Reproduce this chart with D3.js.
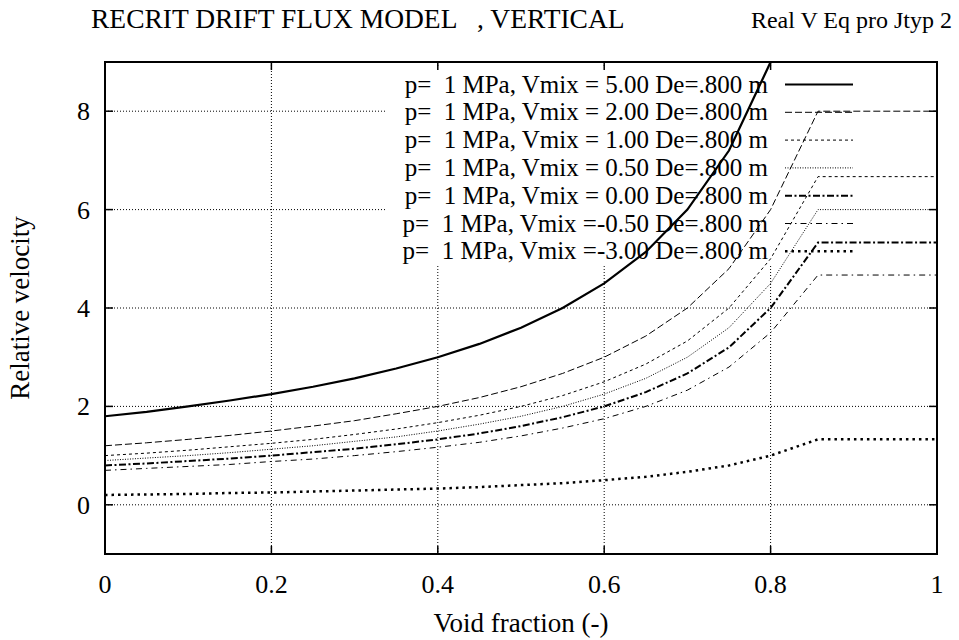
<!DOCTYPE html>
<html lang="en">
<head>
<meta charset="UTF-8">
<title>Recrit drift flux model</title>
<script src="https://d3js.org/d3.v7.min.js"></script>
<style>
    body { margin: 0; padding: 0; background: #fff; }
    .grid line { stroke: #000; stroke-width: 1; stroke-dasharray: 1 2; }
</style>
</head>
<body>
<svg width="959" height="640"></svg>
<script>
    // void fraction samples
    const alpha = [0, 0.05, 0.1, 0.15, 0.2, 0.25, 0.3, 0.35, 0.4, 0.45, 0.5, 0.55, 0.6, 0.65, 0.7, 0.75, 0.8, 0.857, 1.0];

    // relative velocity, one list per mixture velocity
    const vmix500 = [1.80, 1.89, 2.00, 2.12, 2.25, 2.40, 2.57, 2.77, 3.00, 3.27, 3.60, 4.00, 4.50, 5.14, 6.00, 7.20, 9.00, 12.0, 12.0];
    const vmix200 = [1.20, 1.26, 1.33, 1.41, 1.50, 1.60, 1.71, 1.85, 2.00, 2.18, 2.40, 2.67, 3.00, 3.43, 4.00, 4.80, 6.00, 8.00, 8.00];
    const vmix100 = [1.00, 1.05, 1.11, 1.18, 1.25, 1.33, 1.43, 1.54, 1.67, 1.82, 2.00, 2.22, 2.50, 2.86, 3.33, 4.00, 5.00, 6.67, 6.67];
    const vmix050 = [0.90, 0.95, 1.00, 1.06, 1.13, 1.20, 1.29, 1.38, 1.50, 1.64, 1.80, 2.00, 2.25, 2.57, 3.00, 3.60, 4.50, 6.00, 6.00];
    const vmix000 = [0.80, 0.84, 0.89, 0.94, 1.00, 1.07, 1.14, 1.23, 1.33, 1.45, 1.60, 1.78, 2.00, 2.29, 2.67, 3.20, 4.00, 5.33, 5.33];
    const vmixm050 = [0.70, 0.74, 0.78, 0.82, 0.88, 0.93, 1.00, 1.08, 1.17, 1.27, 1.40, 1.56, 1.75, 2.00, 2.33, 2.80, 3.50, 4.67, 4.67];
    const vmixm300 = [0.20, 0.21, 0.22, 0.24, 0.25, 0.27, 0.29, 0.31, 0.33, 0.36, 0.40, 0.44, 0.50, 0.57, 0.67, 0.80, 1.00, 1.33, 1.33];

    const labels = [
        "p=  1 MPa, Vmix = 5.00 De=.800 m",
        "p=  1 MPa, Vmix = 2.00 De=.800 m",
        "p=  1 MPa, Vmix = 1.00 De=.800 m",
        "p=  1 MPa, Vmix = 0.50 De=.800 m",
        "p=  1 MPa, Vmix = 0.00 De=.800 m",
        "p=  1 MPa, Vmix =-0.50 De=.800 m",
        "p=  1 MPa, Vmix =-3.00 De=.800 m"
    ];
    const xTicks = [0, 0.2, 0.4, 0.6, 0.8, 1];
    const yTicks = [0, 2, 4, 6, 8];

    // line looks per series (gnuplot style)
    const styles = [
        { w: 2.2, dash: null },
        { w: 1, dash: "7 3" },
        { w: 1, dash: "3 3" },
        { w: 1, dash: "1 1.5" },
        { w: 2, dash: "7 2.5 2 2.5" },
        { w: 1, dash: "6 4 1.5 4" },
        { w: 2.5, dash: "2.5 4" }
    ];

    const series = [vmix500, vmix200, vmix100, vmix050, vmix000, vmixm050, vmixm300];

    const FONT = "'Liberation Serif', 'Times New Roman', serif";
    const svg = d3.select("svg");
    const L = 105, R = 937, T = 62, B = 554;

    const x = d3.scaleLinear().domain([0, 1]).range([L, R]);
    const y = d3.scaleLinear().domain([-1, 9]).range([B, T]);

    function label(g, size) {
        return g.append("text")
            .style("font-family", FONT)
            .style("font-size", size + "px")
            .style("white-space", "pre")
            .attr("fill", "#000");
    }

    svg.append("defs").append("clipPath").attr("id", "plotclip")
        .append("rect").attr("x", L).attr("y", T).attr("width", R - L).attr("height", B - T);

    // grid
    const grid = svg.append("g").attr("class", "grid");
    grid.selectAll(".gx").data(xTicks.filter(d => d > 0 && d < 1)).enter().append("line")
        .attr("x1", d => x(d)).attr("x2", d => x(d)).attr("y1", T).attr("y2", B);
    grid.selectAll(".gy").data(yTicks).enter().append("line")
        .attr("x1", L).attr("x2", R).attr("y1", d => y(d)).attr("y2", d => y(d));

    // legend box hides the grid behind it
    svg.append("rect").attr("x", 386).attr("y", 68).attr("width", R - 386).attr("height", 196).attr("fill", "#fff");

    // ticks on all four sides, pointing in
    const ticks = svg.append("g").attr("stroke", "#000").attr("stroke-width", 1.5);
    xTicks.forEach(d => {
        ticks.append("line").attr("x1", x(d)).attr("x2", x(d)).attr("y1", B).attr("y2", B - 8);
        ticks.append("line").attr("x1", x(d)).attr("x2", x(d)).attr("y1", T).attr("y2", T + 8);
    });
    yTicks.forEach(d => {
        ticks.append("line").attr("x1", L).attr("x2", L + 8).attr("y1", y(d)).attr("y2", y(d));
        ticks.append("line").attr("x1", R).attr("x2", R - 8).attr("y1", y(d)).attr("y2", y(d));
    });

    // curves
    const line = d3.line().x((d, i) => x(alpha[i])).y(d => y(d));
    svg.append("g").attr("clip-path", "url(#plotclip)")
        .selectAll("path").data(series).enter().append("path")
        .attr("d", d => line(d))
        .attr("fill", "none")
        .attr("stroke", "#000")
        .attr("stroke-width", (d, i) => styles[i].w)
        .attr("stroke-dasharray", (d, i) => styles[i].dash);

    // border
    svg.append("rect").attr("x", L).attr("y", T).attr("width", R - L).attr("height", B - T)
        .attr("fill", "none").attr("stroke", "#000").attr("stroke-width", 2);

    // tick labels
    const xl = svg.append("g");
    xTicks.forEach(d => {
        label(xl, 26).attr("x", x(d)).attr("y", 593).attr("text-anchor", "middle").text(d);
    });
    const yl = svg.append("g");
    yTicks.forEach(d => {
        label(yl, 26).attr("x", 90).attr("y", y(d) + 9).attr("text-anchor", "end").text(d);
    });

    // legend
    const legend = svg.append("g");
    labels.forEach((lab, i) => {
        const ly = 84.5 + i * 27.8;
        label(legend, 25).attr("x", 768).attr("y", ly + 8).attr("text-anchor", "end").text(lab);
        legend.append("line").attr("x1", 785).attr("x2", 853).attr("y1", ly).attr("y2", ly)
            .attr("stroke", "#000").attr("stroke-width", styles[i].w).attr("stroke-dasharray", styles[i].dash);
    });

    // titles
    label(svg, 27.5).attr("x", 91).attr("y", 28).text("RECRIT DRIFT FLUX MODEL   , VERTICAL");
    label(svg, 24).attr("x", 952).attr("y", 28).attr("text-anchor", "end").text("Real V Eq pro Jtyp 2");
    label(svg, 27).attr("x", (L + R) / 2).attr("y", 632).attr("text-anchor", "middle").text("Void fraction (-)");
    label(svg, 27).attr("transform", "translate(29," + (T + B) / 2 + ") rotate(-90)")
        .attr("text-anchor", "middle").text("Relative velocity");
</script>
</body>
</html>
